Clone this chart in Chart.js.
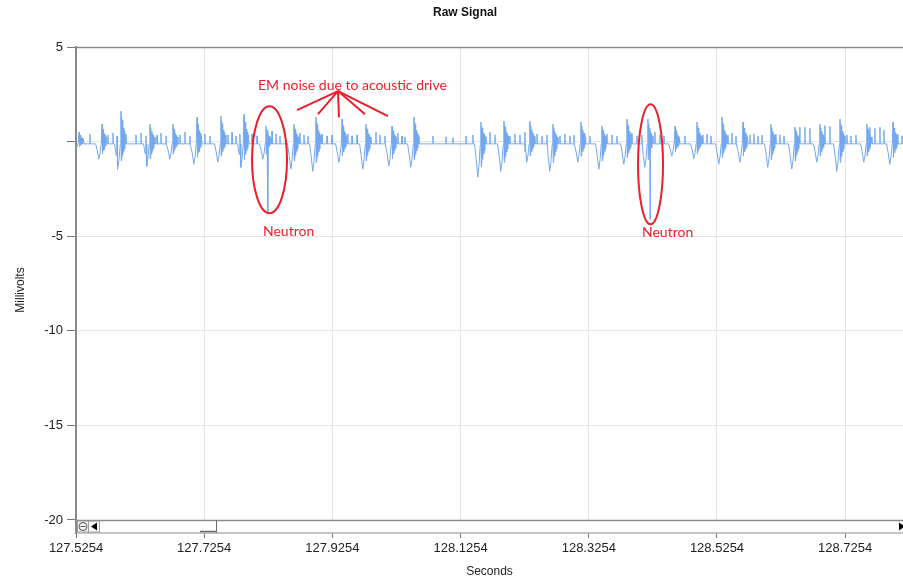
<!DOCTYPE html>
<html>
<head>
<meta charset="utf-8">
<title>Raw Signal</title>
<script src="https://cdn.jsdelivr.net/npm/chart.js@4.4.0/dist/chart.umd.min.js"></script>
<style>
  html, body { margin: 0; padding: 0; background: #ffffff; }
  #wrap { position: relative; width: 903px; height: 580px; }
</style>
</head>
<body>
<div id="wrap"><canvas id="chart"></canvas></div>
<script>
// Time axis: seconds, data kept as milliseconds after the first tick
const startTime = 127.5254;
const endTime = 128.8156;
const xTickValues = [127.5254, 127.7254, 127.9254, 128.1254, 128.3254, 128.5254, 128.7254];
const yTickValues = [5, 0, -5, -10, -15, -20];

// Resting level of the trace (mV)
const baselineMv = -0.12;

// Acoustic drive bursts: time of main spike, its height and the dip before it
const burstMs = [4.7, 40.6, 70.2, 115.4, 151.3, 188.8, 226.2, 262.1, 296.4, 340.1,
  374.4, 415.0, 452.4, 493.0, 527.3, 631.8, 667.7, 708.2, 744.1, 787.8,
  820.6, 859.6, 892.3, 934.5, 968.8, 1007.8, 1040.6, 1084.2, 1121.7, 1160.6,
  1191.9, 1234.0, 1274.6];
const burstPeakMv = [0.5, 0.92, 1.61, 0.92, 0.92, 1.29, 1.35, 1.45, 0.82, 0.92,
  1.29, 1.19, 0.92, 0.82, 1.29, 1.03, 1.08, 1.08, 0.92, 1.03,
  0.82, 1.19, 1.19, 0.82, 1.03, 1.29, 1.03, 0.92, 0.76, 0.92,
  1.19, 0.92, 1.03];
const burstDipMv = [-0.4, -0.93, -1.46, -1.3, -0.93, -1.2, -1.09, -1.36, -0.93, -1.46,
  -1.57, -1.09, -1.46, -1.3, -1.36, -1.88, -1.57, -1.09, -1.57, -1.09,
  -1.46, -1.2, -1.36, -0.77, -0.9, -1.2, -1.09, -1.36, -1.46, -1.09,
  -1.57, -1.09, -1.2];

// Small spikes between bursts
const blipMs = [
  21.8, 49.9, 57.7, 64.0, 93.6, 101.4, 109.2, 126.4, 132.6, 140.4,
  162.2, 170.0, 177.8, 201.2, 209.0, 237.1, 243.4, 249.6, 255.8, 274.6,
  282.4, 305.8, 312.0, 318.2, 349.4, 355.7, 361.9, 383.8, 391.6, 399.4,
  424.3, 430.6, 438.4, 468.0, 474.2, 482.0, 502.3, 508.6, 513.2, 556.9,
  577.2, 588.1, 608.4, 619.3, 645.8, 653.6, 677.0, 684.8, 692.6, 700.4,
  719.2, 727.0, 734.8, 755.0, 762.8, 770.6, 776.9, 794.0, 801.8, 828.4,
  836.2, 844.0, 867.4, 875.2, 883.0, 903.2, 911.0, 917.3, 950.0, 978.1,
  984.4, 990.6, 1017.1, 1023.4, 1029.6, 1051.4, 1057.7, 1063.9, 1070.2, 1092.0,
  1098.2, 1104.5, 1129.4, 1137.2, 1145.0, 1168.4, 1176.2, 1202.8, 1209.0, 1216.8,
  1238.6, 1246.4, 1254.2, 1260.5, 1282.3, 1288.6];
const blipMv = [
  0.39, 0.35, 0.45, 0.3, 0.35, 0.45, 0.3, 0.35, 0.45, 0.3,
  0.35, 0.5, 0.3, 0.4, 0.3, 0.35, 0.5, 0.3, 0.4, 0.4,
  0.3, 0.55, 0.4, 0.3, 0.45, 0.35, 0.3, 0.4, 0.3, 0.35,
  0.4, 0.3, 0.35, 0.5, 0.35, 0.3, 0.45, 0.3, 0.25, 0.3,
  0.25, 0.2, 0.3, 0.35, 0.5, 0.35, 0.3, 0.4, 0.35, 0.5,
  0.4, 0.3, 0.35, 0.3, 0.4, 0.3, 0.35, 0.45, 0.3, 0.4,
  0.35, 0.3, 0.45, 0.3, 0.35, 0.5, 0.35, 0.3, 0.3, 0.35,
  0.4, 0.3, 0.35, 0.45, 0.3, 0.35, 0.4, 0.3, 0.35, 0.4,
  0.35, 0.3, 0.76, 0.76, 0.7, 0.85, 0.8, 0.35, 0.3, 0.35,
  0.76, 0.7, 0.76, 0.6, 0.4, 0.3];

// The two neutron pulses
const neutronMs = [299.5, 895.5];
const neutronMv = [-3.75, -4.11];

// Outline of one burst: dip, main spike, then ringing
// weight > 0 scales the spike height, < 0 scales the dip, 0 is the baseline
const burstShapeMs = [-10, -7.5, -5, -3, -1.2, 0, 0.4, 0.8, 1.2, 1.6, 2.1, 2.6, 3.1, 3.7, 4.3, 5.0, 5.8, 6.7, 7.8];
const burstShapeWeight = [0, -0.5, -1, -0.65, -0.1, 1, -0.7, 0.8, -0.6, 0.7, -0.5, 0.6, -0.45, 0.45, -0.35, 0.35, -0.25, 0.25, 0];

// Annotation anchors (seconds, mV)
const noteColor = 'rgb(236, 30, 40)';
const noteText = 'EM noise due to acoustic drive';
const noteAt = [127.8093, 2.98];
const arrowFrom = [127.9341, 2.67];
const arrowToSec = [127.8702, 127.9029, 127.9357, 127.9763, 128.0121];
const arrowToMv = [1.66, 1.45, 1.29, 1.45, 1.35];
const neutronRingSec = [127.8273, 128.4217];
const neutronRingMv = [-0.96, -1.2];
const neutronLabelSec = [127.8171, 128.4084];
const neutronLabelMv = [-4.75, -4.8];

function buildTrace() {
  const pts = [];
  const toSec = ms => startTime + ms / 1000;
  burstMs.forEach((ms, i) => {
    burstShapeMs.forEach((off, k) => {
      const w = burstShapeWeight[k];
      let v = baselineMv;
      if (w > 0) v = w * burstPeakMv[i];
      if (w < 0) v = -w * burstDipMv[i];
      pts.push({ x: toSec(ms + off), y: v });
    });
  });
  blipMs.forEach((ms, i) => {
    pts.push({ x: toSec(ms - 0.3), y: baselineMv });
    pts.push({ x: toSec(ms), y: blipMv[i] });
    pts.push({ x: toSec(ms + 0.4), y: baselineMv });
  });
  neutronMs.forEach((ms, i) => {
    pts.push({ x: toSec(ms - 0.2), y: 0.3 });
    pts.push({ x: toSec(ms), y: neutronMv[i] });
    pts.push({ x: toSec(ms + 0.3), y: baselineMv });
  });
  pts.sort((a, b) => a.x - b.x);
  return pts;
}

const tickFont = { family: "'Liberation Sans', Arial, sans-serif", size: 13 };

const notesPlugin = {
  id: 'notes',
  afterDatasetsDraw(chart) {
    const { ctx, scales: { x, y } } = chart;
    ctx.save();
    ctx.strokeStyle = noteColor;
    ctx.fillStyle = noteColor;
    ctx.lineWidth = 2;

    // rings round the neutron pulses
    const ringSize = [[17.5, 53.5], [12.5, 60]];
    neutronRingSec.forEach((s, i) => {
      ctx.beginPath();
      ctx.ellipse(x.getPixelForValue(s), y.getPixelForValue(neutronRingMv[i]),
        ringSize[i][0], ringSize[i][1], 0, 0, Math.PI * 2);
      ctx.stroke();
    });

    // arrows from the note to the bursts
    const ax = x.getPixelForValue(arrowFrom[0]);
    const ay = y.getPixelForValue(arrowFrom[1]);
    arrowToSec.forEach((s, i) => {
      ctx.beginPath();
      ctx.moveTo(ax, ay);
      ctx.lineTo(x.getPixelForValue(s), y.getPixelForValue(arrowToMv[i]));
      ctx.stroke();
    });

    ctx.font = "14px Lato, 'Open Sans', sans-serif";
    ctx.textBaseline = 'middle';
    ctx.textAlign = 'left';
    ctx.fillText(noteText, x.getPixelForValue(noteAt[0]), y.getPixelForValue(noteAt[1]));
    neutronLabelSec.forEach((s, i) => {
      ctx.fillText('Neutron', x.getPixelForValue(s), y.getPixelForValue(neutronLabelMv[i]));
    });
    ctx.restore();
  },
  afterDraw(chart) {
    const { ctx, chartArea: a, scales: { y } } = chart;
    const top = Math.round(a.top) + 0.5;
    const barTop = Math.round(y.getPixelForValue(-20)) + 0.5;
    const barBottom = Math.round(a.bottom) - 0.5;
    ctx.save();

    // title
    ctx.fillStyle = '#111';
    ctx.font = "bold 12px 'Liberation Sans', Arial, sans-serif";
    ctx.textAlign = 'center';
    ctx.textBaseline = 'middle';
    ctx.fillText('Raw Signal', 465, 13);

    // frame top
    ctx.strokeStyle = '#8a8a8a';
    ctx.lineWidth = 1.5;
    ctx.beginPath();
    ctx.moveTo(a.left, top);
    ctx.lineTo(a.right, top);
    ctx.stroke();

    // scroll bar under the plot
    ctx.fillStyle = '#ffffff';
    ctx.fillRect(a.left + 1, barTop, a.right - a.left, barBottom - barTop);
    ctx.beginPath();
    ctx.moveTo(a.left, barTop);
    ctx.lineTo(a.right, barTop);
    ctx.stroke();

    ctx.lineWidth = 1;
    ctx.strokeStyle = '#9a9a9a';
    ctx.fillStyle = '#f2f2f2';
    ctx.fillRect(a.left + 1, barTop + 1, 11, barBottom - barTop - 1);
    ctx.strokeRect(a.left + 1.5, barTop + 0.5, 11, barBottom - barTop - 1);
    ctx.strokeRect(a.left + 12.5, barTop + 0.5, 11, barBottom - barTop - 1);
    const cy = (barTop + barBottom) / 2;
    ctx.strokeStyle = '#555';
    ctx.beginPath();
    ctx.arc(a.left + 7, cy, 4, 0, Math.PI * 2);
    ctx.moveTo(a.left + 4.5, cy);
    ctx.lineTo(a.left + 9.5, cy);
    ctx.stroke();
    ctx.fillStyle = '#000';
    ctx.beginPath();
    ctx.moveTo(a.left + 15, cy);
    ctx.lineTo(a.left + 21, cy - 4);
    ctx.lineTo(a.left + 21, cy + 4);
    ctx.closePath();
    ctx.fill();

    // thumb edge
    ctx.strokeStyle = '#6a6a6a';
    ctx.beginPath();
    ctx.moveTo(216.5, barTop);
    ctx.lineTo(216.5, barBottom);
    ctx.stroke();
    ctx.lineWidth = 1.5;
    ctx.beginPath();
    ctx.moveTo(200, barBottom - 1);
    ctx.lineTo(217, barBottom - 1);
    ctx.stroke();

    // right arrow, cut by the edge
    ctx.fillStyle = '#000';
    ctx.beginPath();
    ctx.moveTo(899, cy - 4);
    ctx.lineTo(899, cy + 4);
    ctx.lineTo(905, cy);
    ctx.closePath();
    ctx.fill();
    ctx.restore();
  }
};

new Chart(document.getElementById('chart'), {
  type: 'line',
  data: {
    datasets: [{
      label: 'Raw Signal',
      data: buildTrace(),
      borderColor: '#74a8ee',
      borderWidth: 1,
      pointRadius: 0,
      tension: 0,
      fill: false
    }]
  },
  options: {
    responsive: true,
    maintainAspectRatio: false,
    animation: false,
    parsing: false,
    layout: { padding: { top: 47, left: 0, right: 0, bottom: 0 } },
    plugins: {
      legend: { display: false },
      tooltip: { enabled: false },
      title: { display: false }
    },
    scales: {
      x: {
        type: 'linear',
        min: startTime,
        max: endTime,
        afterBuildTicks: scale => { scale.ticks = xTickValues.map(v => ({ value: v })); },
        afterFit: scale => { scale.height = 47; },
        ticks: {
          color: '#222',
          font: tickFont,
          padding: 3,
          maxRotation: 0,
          autoSkip: false,
          callback: v => v.toFixed(4)
        },
        grid: { color: '#e6e6e6', tickColor: '#777', tickLength: 5 },
        border: { color: '#8a8a8a', width: 1.5 },
        title: {
          display: true,
          text: 'Seconds',
          color: '#222',
          font: { family: "'Liberation Sans', Arial, sans-serif", size: 12 },
          padding: { top: 0, bottom: 1 }
        }
      },
      y: {
        type: 'linear',
        min: -20.69,
        max: 5,
        afterBuildTicks: scale => { scale.ticks = yTickValues.map(v => ({ value: v })); },
        afterFit: scale => { scale.width = 76; },
        ticks: {
          color: '#222',
          font: tickFont,
          padding: 4,
          callback: v => (v === 0 ? '' : String(v))
        },
        grid: {
          color: ctx => (ctx.tick && (ctx.tick.value === 5 || ctx.tick.value === -20) ? 'rgba(0,0,0,0)' : '#e6e6e6'),
          tickColor: '#777',
          tickLength: 9
        },
        border: { color: '#8a8a8a', width: 2 },
        title: {
          display: true,
          text: 'Millivolts',
          color: '#222',
          font: { family: "'Liberation Sans', Arial, sans-serif", size: 12 },
          padding: { top: 13, bottom: 0 }
        }
      }
    }
  },
  plugins: [notesPlugin]
});
</script>
</body>
</html>
